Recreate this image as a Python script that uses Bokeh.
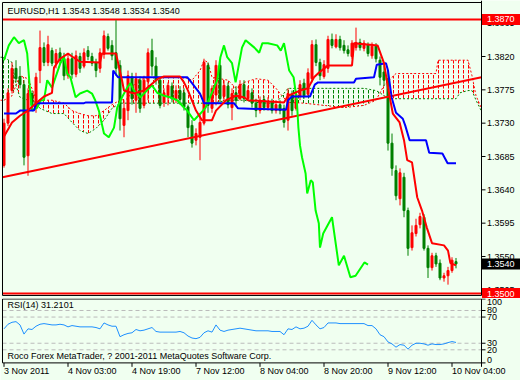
from bokeh.plotting import figure
from bokeh.layouts import column
from bokeh.models import Range1d
from bokeh.embed import file_html
from bokeh.resources import INLINE
from bokeh.core.properties import value

# ---------------- data (EURUSD H1) ----------------
bar_open = [1.3673, 1.3730, 1.3774, 1.3804, 1.3793, 1.3782, 1.3686, 1.3770, 1.3750, 1.3801,
 1.3832, 1.3812, 1.3828, 1.3811, 1.3825, 1.3817, 1.3794, 1.3817, 1.3796, 1.3820,
 1.3807, 1.3828, 1.3820, 1.3812, 1.3804, 1.3823, 1.3847, 1.3835, 1.3825, 1.3808,
 1.3727, 1.3747, 1.3793, 1.3761, 1.3788, 1.3754, 1.3786, 1.3828, 1.3807, 1.3788,
 1.3758, 1.3767, 1.3780, 1.3763, 1.3774, 1.3771, 1.3752, 1.3727, 1.3707, 1.3711,
 1.3730, 1.3808, 1.3750, 1.3768, 1.3808, 1.3766, 1.3780, 1.3751, 1.3771, 1.3763,
 1.3782, 1.3763, 1.3771, 1.3757, 1.3747, 1.3762, 1.3751, 1.3759, 1.3747, 1.3755,
 1.3750, 1.3734, 1.3769, 1.3750, 1.3766, 1.3784, 1.3769, 1.3790, 1.3836, 1.3812,
 1.3793, 1.3804, 1.3843, 1.3833, 1.3843, 1.3835, 1.3829, 1.3820, 1.3832, 1.3839,
 1.3831, 1.3836, 1.3821, 1.3834, 1.3815, 1.3799, 1.3790, 1.3703, 1.3666, 1.3628,
 1.3657, 1.3612, 1.3562, 1.3581, 1.3593, 1.3603, 1.3561, 1.3535, 1.3551, 1.3541,
 1.3521, 1.3524, 1.3531, 1.3543]
bar_high = [1.3736, 1.3777, 1.3812, 1.3815, 1.3807, 1.3788, 1.3777, 1.3774, 1.3798, 1.3855,
 1.3839, 1.3848, 1.3832, 1.3830, 1.3832, 1.3825, 1.3823, 1.3825, 1.3828, 1.3825,
 1.3831, 1.3834, 1.3825, 1.3817, 1.3831, 1.3855, 1.3851, 1.3842, 1.3869, 1.3815,
 1.3761, 1.3801, 1.3798, 1.3798, 1.3793, 1.3794, 1.3831, 1.3844, 1.3819, 1.3790,
 1.3777, 1.3785, 1.3785, 1.3781, 1.3780, 1.3777, 1.3755, 1.3734, 1.3723, 1.3743,
 1.3817, 1.3812, 1.3781, 1.3815, 1.3815, 1.3788, 1.3785, 1.3777, 1.3780, 1.3788,
 1.3788, 1.3780, 1.3777, 1.3763, 1.3766, 1.3767, 1.3765, 1.3763, 1.3761, 1.3761,
 1.3755, 1.3777, 1.3774, 1.3774, 1.3788, 1.3790, 1.3804, 1.3842, 1.3843, 1.3817,
 1.3815, 1.3848, 1.3851, 1.3850, 1.3848, 1.3842, 1.3835, 1.3842, 1.3859, 1.3844,
 1.3842, 1.3839, 1.3839, 1.3838, 1.3820, 1.3808, 1.3801, 1.3716, 1.3673, 1.3669,
 1.3663, 1.3616, 1.3592, 1.3601, 1.3609, 1.3607, 1.3565, 1.3555, 1.3555, 1.3546,
 1.3528, 1.3536, 1.3549, 1.3548]
bar_low = [1.3670, 1.3726, 1.3770, 1.3785, 1.3777, 1.3673, 1.3659, 1.3747, 1.3744, 1.3784,
 1.3807, 1.3807, 1.3807, 1.3804, 1.3809, 1.3788, 1.3790, 1.3790, 1.3792, 1.3798,
 1.3804, 1.3815, 1.3807, 1.3792, 1.3798, 1.3817, 1.3828, 1.3815, 1.3794, 1.3720,
 1.3711, 1.3734, 1.3755, 1.3744, 1.3744, 1.3750, 1.3761, 1.3794, 1.3782, 1.3750,
 1.3752, 1.3754, 1.3758, 1.3757, 1.3755, 1.3747, 1.3711, 1.3697, 1.3700, 1.3680,
 1.3727, 1.3744, 1.3744, 1.3754, 1.3758, 1.3761, 1.3750, 1.3734, 1.3755, 1.3761,
 1.3758, 1.3761, 1.3751, 1.3738, 1.3743, 1.3747, 1.3747, 1.3743, 1.3743, 1.3742,
 1.3724, 1.3720, 1.3740, 1.3747, 1.3761, 1.3763, 1.3766, 1.3785, 1.3807, 1.3788,
 1.3790, 1.3798, 1.3831, 1.3831, 1.3828, 1.3824, 1.3820, 1.3817, 1.3828, 1.3828,
 1.3827, 1.3820, 1.3817, 1.3812, 1.3781, 1.3780, 1.3693, 1.3659, 1.3626, 1.3619,
 1.3603, 1.3551, 1.3558, 1.3577, 1.3588, 1.3558, 1.3521, 1.3531, 1.3536, 1.3518,
 1.3516, 1.3512, 1.3528, 1.3534]
bar_close = [1.3730, 1.3771, 1.3804, 1.3790, 1.3782, 1.3684, 1.3770, 1.3754, 1.3792, 1.3832,
 1.3812, 1.3836, 1.3811, 1.3824, 1.3815, 1.3794, 1.3817, 1.3796, 1.3821, 1.3804,
 1.3825, 1.3820, 1.3811, 1.3801, 1.3825, 1.3848, 1.3831, 1.3821, 1.3804, 1.3736,
 1.3750, 1.3794, 1.3763, 1.3790, 1.3750, 1.3788, 1.3825, 1.3807, 1.3788, 1.3754,
 1.3771, 1.3781, 1.3763, 1.3774, 1.3762, 1.3752, 1.3724, 1.3703, 1.3716, 1.3731,
 1.3812, 1.3754, 1.3777, 1.3808, 1.3763, 1.3781, 1.3755, 1.3770, 1.3761, 1.3782,
 1.3763, 1.3774, 1.3757, 1.3747, 1.3761, 1.3751, 1.3759, 1.3747, 1.3755, 1.3747,
 1.3731, 1.3770, 1.3747, 1.3769, 1.3782, 1.3767, 1.3798, 1.3836, 1.3812, 1.3794,
 1.3809, 1.3843, 1.3835, 1.3843, 1.3832, 1.3828, 1.3824, 1.3838, 1.3839, 1.3832,
 1.3838, 1.3824, 1.3834, 1.3817, 1.3792, 1.3788, 1.3703, 1.3669, 1.3632, 1.3663,
 1.3612, 1.3561, 1.3582, 1.3592, 1.3604, 1.3561, 1.3535, 1.3551, 1.3540, 1.3521,
 1.3524, 1.3531, 1.3545, 1.3540]

# Tenkan-sen (red), Kijun-sen (blue), Chikou span (lime): (bar position, price)
tenkan_x = [0, 2, 4, 6, 8, 10, 12, 12.5, 14, 16, 17, 19, 24, 24.5, 28, 28.5, 29.5, 30, 32.5, 35,
 38.5, 40, 44, 45, 46, 48, 49.5, 52, 53, 55.5, 58, 60, 61, 70, 71, 74, 76, 77.5, 78.7, 81,
 87, 87.5, 93.4, 95, 96, 97.2, 98.9, 100, 100.8, 102, 102.5, 103.3, 104.5, 105.7, 107, 110, 111, 111.6, 113]
tenkan_y = [1.3712, 1.3731, 1.3740, 1.3747, 1.3757, 1.3766, 1.3771, 1.3805, 1.3817, 1.3824,
 1.3820, 1.3813, 1.3812, 1.3824, 1.3824, 1.3812, 1.3788, 1.3774, 1.3770, 1.3774,
 1.3790, 1.3793, 1.3793, 1.3785, 1.3774, 1.3747, 1.3734, 1.3734, 1.3747, 1.3761,
 1.3767, 1.3765, 1.3761, 1.3758, 1.3767, 1.3774, 1.3777, 1.3792, 1.3798, 1.3808,
 1.3808, 1.3838, 1.3835, 1.3811, 1.3778, 1.3743, 1.3731, 1.3707, 1.3680, 1.3677,
 1.3659, 1.3630, 1.3612, 1.3589, 1.3568, 1.3565, 1.3558, 1.3541, 1.3538]
kijun_x = [0, 3, 4, 7.5, 8, 20, 20.5, 27, 27.3, 28.5, 45.8, 47, 49, 50, 57.5, 58.5, 70.5, 71, 72, 76.5,
 77.7, 78.5, 87.5, 88, 92.5, 93.2, 95.5, 96, 96.9, 98, 99.7, 100.3, 101.4, 105.5, 106.3, 109.6, 110.9, 113]
kijun_y = [1.3743, 1.3743, 1.3747, 1.3747, 1.3757, 1.3757, 1.3758, 1.3758, 1.3801, 1.3792,
 1.3792, 1.3784, 1.3770, 1.3757, 1.3757, 1.3750, 1.3748, 1.3761, 1.3766, 1.3766,
 1.3782, 1.3785, 1.3785, 1.3790, 1.3792, 1.3809, 1.3811, 1.3801, 1.3765, 1.3744,
 1.3736, 1.3727, 1.3707, 1.3707, 1.3690, 1.3689, 1.3676, 1.3676]
chikou_x = [0, 1.2, 2.5, 3.7, 5, 5.8, 6.5, 7, 8.3, 9.2, 10, 10.8, 12, 14.1, 15, 15.8, 16.6, 17.9, 19, 20.8,
 22, 22.8, 23.7, 25, 26.2, 27.5, 28.3, 29.5, 30.8, 31.6, 32.5, 34.1, 35.7, 37, 38.3, 40, 41.5, 43.3, 45, 45.8,
 47.5, 49.1, 50.4, 51.2, 52.5, 53.3, 54.1, 55, 55.8, 57, 57.9, 59.5, 60.4, 62.6, 63.8, 64.6, 66, 68.3, 69.2, 70,
 71.3, 72.4, 73.2, 73.6, 74, 74.5, 75.4, 75.8, 76.7, 77.2, 77.9, 78.7, 79, 79.8, 82, 83.7, 85, 86.6, 87.9, 90.1, 91]
chikou_y = [1.3815, 1.3835, 1.3846, 1.3838, 1.3842, 1.3824, 1.3774, 1.3747, 1.3751, 1.3761,
 1.3761, 1.3788, 1.3778, 1.3811, 1.3819, 1.3797, 1.3792, 1.3765, 1.3770, 1.3774,
 1.3770, 1.3761, 1.3747, 1.3716, 1.3711, 1.3724, 1.3751, 1.3765, 1.3778, 1.3784,
 1.3774, 1.3765, 1.3774, 1.3781, 1.3771, 1.3767, 1.3765, 1.3761, 1.3751, 1.3747,
 1.3734, 1.3743, 1.3751, 1.3761, 1.3778, 1.3788, 1.3819, 1.3835, 1.3819, 1.3811,
 1.3785, 1.3832, 1.3842, 1.3832, 1.3825, 1.3838, 1.3838, 1.3835, 1.3828, 1.3838,
 1.3801, 1.3792, 1.3761, 1.3724, 1.3700, 1.3684, 1.3662, 1.3635, 1.3653, 1.3650,
 1.3612, 1.3595, 1.3562, 1.3581, 1.3603, 1.3538, 1.3551, 1.3522, 1.3524, 1.3542, 1.3539]

# Kumo (Senkou span A / B)
kumo_x = [-1, 0, 2, 3, 4, 6, 8, 9, 12, 15, 17, 19, 21, 23, 25, 27, 29, 31, 33, 37,
 45, 47, 49, 50, 51, 52, 56, 58, 60, 63, 66, 68, 69.5, 71, 75, 80, 85, 90, 93, 94,
 95, 97, 98, 108, 108.5, 113, 114, 116, 117, 118, 119.3]
span_a = [1.3761, 1.3761, 1.3767, 1.3781, 1.3794, 1.3790, 1.3763, 1.3761, 1.3761, 1.3757,
 1.3747, 1.3743, 1.3740, 1.3740, 1.3747, 1.3755, 1.3761, 1.3763, 1.3788, 1.3792,
 1.3792, 1.3788, 1.3801, 1.3815, 1.3812, 1.3792, 1.3788, 1.3777, 1.3785, 1.3790,
 1.3788, 1.3777, 1.3767, 1.3758, 1.3757, 1.3754, 1.3751, 1.3754, 1.3761, 1.3771,
 1.3781, 1.3792, 1.3797, 1.3797, 1.3815, 1.3815, 1.3815, 1.3815, 1.3794, 1.3767, 1.3751]
span_b = [1.3819, 1.3819, 1.3812, 1.3781, 1.3765, 1.3761, 1.3758, 1.3750, 1.3743, 1.3743,
 1.3731, 1.3720, 1.3716, 1.3723, 1.3734, 1.3750, 1.3757, 1.3757, 1.3757, 1.3757,
 1.3757, 1.3757, 1.3757, 1.3757, 1.3757, 1.3757, 1.3761, 1.3761, 1.3761, 1.3758,
 1.3757, 1.3757, 1.3767, 1.3777, 1.3777, 1.3777, 1.3777, 1.3777, 1.3774, 1.3771,
 1.3767, 1.3763, 1.3763, 1.3763, 1.3763, 1.3763, 1.3771, 1.3774, 1.3774, 1.3761, 1.3747]

trend_x = [-0.375, 119.375]
trend_y = [1.3657, 1.3792]
hlines = [1.3870, 1.3500]
price_ticks = [1.3505, 1.3550, 1.3595, 1.3640, 1.3685, 1.3730, 1.3775, 1.3820, 1.3865]

rsi = [52, 59, 62, 63, 58, 44, 52, 51, 56, 59,
 60, 59, 58, 58, 59, 58, 55, 57, 56, 55,
 55, 55, 55, 54, 52, 61, 58, 56, 56, 40,
 43, 45, 46, 51, 49, 50, 52, 54, 48, 47,
 47, 47, 47, 47, 48, 46, 41, 38, 37, 39,
 46, 49, 47, 58, 50, 48, 50, 51, 52, 53,
 52, 51, 50, 49, 49, 49, 49, 48, 48, 48,
 43, 52, 51, 55, 52, 53, 56, 65, 58, 52,
 54, 61, 61, 61, 60, 60, 60, 60, 60, 60,
 60, 57, 57, 52, 43, 40, 32, 29, 24, 28,
 27, 21, 27, 30, 30, 29, 27, 29, 28, 28,
 29, 31, 32.6, 31.2101]
rsi_levels = [80, 70, 30, 20]
rsi_ticks_mid = [80, 70, 30, 20]

time_idx = [0, 16, 32, 48, 64, 80, 96, 112]
time_labels = ["3 Nov 2011", "4 Nov 03:00", "4 Nov 19:00", "7 Nov 12:00",
               "8 Nov 04:00", "8 Nov 20:00", "9 Nov 12:00", "10 Nov 04:00"]

# ---------------- layout / styling constants ----------------
FONT = value("Liberation Sans")
FS = value("9px")
BG = "#F0FFF0"
UP = "#FF0000"
DOWN = "#008000"

XL, XR = -0.875, 129.125        # 4 px per bar over the whole 520 px width
XB = -0.375                      # left border of the panels
XA = 119.375                     # price-scale line on the right
TOP, BOT = 1.38929, 1.34974      # border of the price panel
RS_TOP, RS_BOT = 97.56, 0.0      # border of the RSI panel


def base(height, yr):
    f = figure(width=520, height=height, x_range=Range1d(XL, XR), y_range=yr,
               output_backend="svg", toolbar_location=None,
               x_axis_location=None, y_axis_location=None, min_border=0,
               background_fill_color=BG, border_fill_color=BG, outline_line_color=None)
    f.grid.visible = False
    return f


# ---------------- price panel ----------------
p = base(298, Range1d(1.34933, 1.38956))

cuts = [0] + [k for k in range(1, len(kumo_x) - 1) if span_a[k] == span_b[k]] + [len(kumo_x) - 1]
for s, e in zip(cuts[:-1], cuts[1:]):
    xs = kumo_x[s:e + 1]
    ya = span_a[s:e + 1]
    yb = span_b[s:e + 1]
    col = UP if sum(a - b for a, b in zip(ya, yb)) > 0 else DOWN
    p.varea(x=xs, y1=ya, y2=yb, fill_color=None, fill_alpha=0,
            hatch_pattern=":", hatch_color=col, hatch_scale=5, hatch_weight=1)
p.line(kumo_x, span_a, line_color=UP, line_width=1, line_dash="2 2")
p.line(kumo_x, span_b, line_color=DOWN, line_width=1, line_dash="2 2")

p.segment(x0=[XB] * len(hlines), y0=hlines, x1=[XA] * len(hlines), y1=hlines,
          line_color=UP, line_width=2)

idx = list(range(len(bar_close)))
cols = [UP if c > o else DOWN for o, c in zip(bar_open, bar_close)]
tops = [max(o, c) for o, c in zip(bar_open, bar_close)]
bots = [min(o, c) for o, c in zip(bar_open, bar_close)]
p.segment(x0=idx, y0=bar_low, x1=idx, y1=bar_high, line_color=cols, line_width=1)
p.vbar(x=idx, width=0.5, top=tops, bottom=bots, fill_color=cols, line_color=cols, line_width=1)

p.line(trend_x, trend_y, line_color=UP, line_width=2)
p.line(chikou_x, chikou_y, line_color="#00FF00", line_width=2)
p.line(kijun_x, kijun_y, line_color="#0000FF", line_width=2)
p.line(tenkan_x, tenkan_y, line_color=UP, line_width=2)

hdr = "EURUSD,H1  %.4f %.4f %.4f %.4f" % (bar_open[-1], bar_high[-1], bar_low[-1], bar_close[-1])
p.text(x=[0.9], y=[1.38821], text=[hdr], text_font=FONT, text_font_size=FS,
       text_color="black", text_baseline="middle", text_align="left")

# price scale (right)
n = len(price_ticks)
p.segment(x0=[XA] * n, y0=price_ticks, x1=[XA + 1] * n, y1=price_ticks, line_color="black", line_width=1)
p.text(x=[XA + 1.375] * n, y=price_ticks, text=["%.4f" % t for t in price_ticks],
       text_font=FONT, text_font_size=FS, text_color="black",
       text_baseline="middle", text_align="left")
box_vals = [hlines[0], bar_close[-1], hlines[1]]
p.rect(x=[124.25] * 3, y=box_vals, width=38, height=11, width_units="screen", height_units="screen",
       fill_color=[UP, "black", UP], line_color=None)
p.text(x=[XA + 1.375] * 3, y=box_vals, text=["%.4f" % v for v in box_vals],
       text_font=FONT, text_font_size=FS, text_color="white",
       text_baseline="middle", text_align="left")

# panel border
p.segment(x0=[XB, XB, XB, XA], y0=[TOP, BOT, TOP, 1.38956], x1=[XA, XA, XB, XA], y1=[TOP, BOT, BOT, BOT],
          line_color="black", line_width=1)

# ---------------- RSI panel ----------------
r = base(82, Range1d(-26.87, 98.32))
r.segment(x0=[XB] * len(rsi_levels), y0=rsi_levels, x1=[XA] * len(rsi_levels), y1=rsi_levels,
          line_color="#BBBBBB", line_width=1, line_dash="4 3")
r.line(idx, rsi, line_color="#1E90FF", line_width=1)

r.text(x=[0.9], y=[89], text=["RSI(14) %.4f" % rsi[-1]], text_font=FONT, text_font_size=FS,
       text_color="black", text_baseline="middle", text_align="left")
r.text(x=[0.9], y=[11], text=["Roco Forex MetaTrader, ? 2001-2011 MetaQuotes Software Corp."],
       text_font=FONT, text_font_size=FS, text_color="black",
       text_baseline="middle", text_align="left")

# RSI scale (right)
all_rsi_ticks = [100] + rsi_ticks_mid + [0]
r.segment(x0=[XA] * len(all_rsi_ticks), y0=[RS_TOP] + rsi_ticks_mid + [RS_BOT],
          x1=[XA + 1] * len(all_rsi_ticks), y1=[RS_TOP] + rsi_ticks_mid + [RS_BOT],
          line_color="black", line_width=1)
r.text(x=[XA + 1.375] * len(rsi_ticks_mid), y=rsi_ticks_mid, text=[str(t) for t in rsi_ticks_mid],
       text_font=FONT, text_font_size=FS, text_color="black", text_baseline="middle", text_align="left")
r.text(x=[XA + 1.375], y=[RS_TOP], text=["100"], text_font=FONT, text_font_size=FS,
       text_color="black", text_baseline="top", text_align="left")
r.text(x=[XA + 1.375], y=[RS_BOT], text=["0"], text_font=FONT, text_font_size=FS,
       text_color="black", text_baseline="bottom", text_align="left")

# time scale (bottom)
r.segment(x0=time_idx, y0=[RS_BOT] * len(time_idx), x1=time_idx, y1=[-6] * len(time_idx),
          line_color="black", line_width=1)
r.text(x=time_idx, y=[-12.5] * len(time_idx), text=time_labels, text_font=FONT, text_font_size=FS,
       text_color="black", text_baseline="middle", text_align="left")

# panel border
r.segment(x0=[XB, XB, XB, XA], y0=[RS_TOP, RS_BOT, RS_TOP, RS_TOP], x1=[XA, XA, XB, XA],
          y1=[RS_TOP, RS_BOT, RS_BOT, -6], line_color="black", line_width=1)

layout = column(p, r, spacing=0)
open("out.html", "w").write(file_html(layout, INLINE))
